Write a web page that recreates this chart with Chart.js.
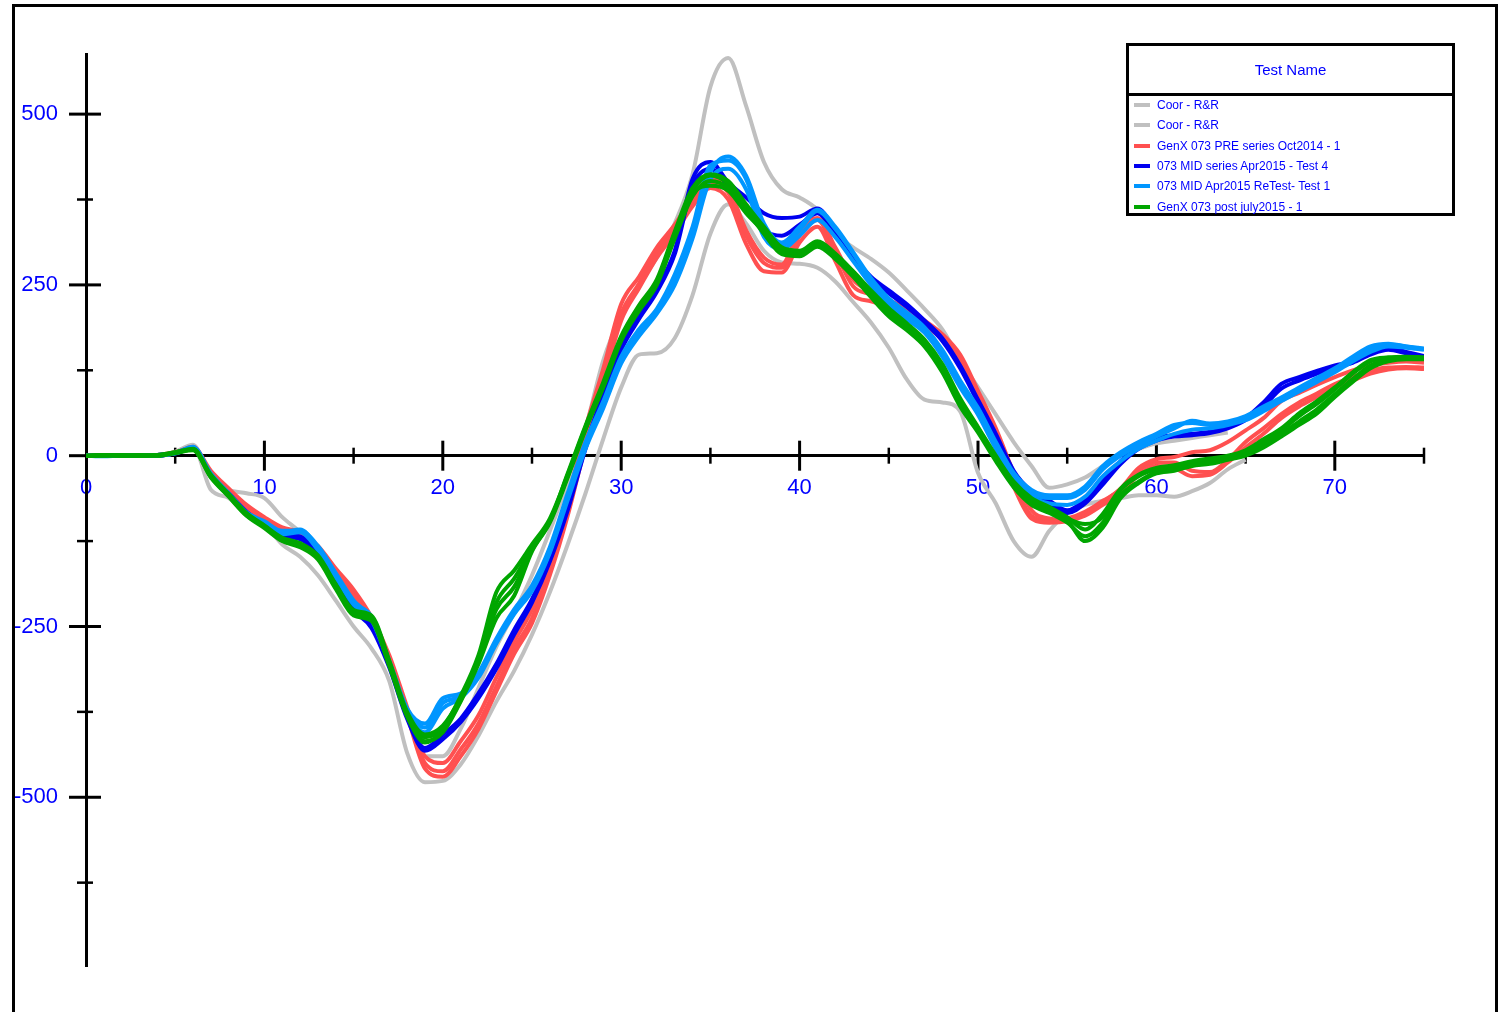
<!DOCTYPE html>
<html>
<head>
<meta charset="utf-8">
<title>Test Name</title>
<script src="https://cdn.jsdelivr.net/npm/chart.js@4.4.1/dist/chart.umd.min.js"></script>
<style>
    html, body { margin: 0; padding: 0; background: #fff; overflow: hidden; }
    body { width: 1499px; height: 1012px; position: relative; font-family: "Liberation Sans", Arial, sans-serif; }
    #frame { position: absolute; left: 12px; top: 4px; width: 1480px; height: 1100px; border: 3px solid #000; }
    #chart { position: absolute; left: 0; top: 0; }
    #legend { position: absolute; left: 1126px; top: 43px; width: 323px; height: 167px; border: 3px solid #000; background: #fff; color: #0000ff; }
    #legend .title { position: absolute; left: 0; top: 0; width: 100%; height: 47px; line-height: 47px; text-align: center; font-size: 15px; border-bottom: 3px solid #000; }
    #legend .item { position: absolute; left: 0; height: 20px; line-height: 20px; font-size: 12px; white-space: nowrap; }
    #legend .swatch { position: absolute; left: 5px; top: 8px; width: 16px; height: 4px; }
    #legend .label { position: absolute; left: 28px; top: 0; }
</style>
</head>
<body>
<div id="frame"></div>
<canvas id="chart" width="1499" height="1012"></canvas>
<div id="legend"></div>

<script>
// sample positions along the x axis
const xValues = Array.from({ length: 76 }, (_, i) => i);

const xTickValues = [0, 5, 10, 15, 20, 25, 30, 35, 40, 45, 50, 55, 60, 65, 70, 75];
const yTickValues = [-625, -500, -375, -250, -125, 0, 125, 250, 375, 500];

const seriesNames = [
    "Coor - R&R",
    "Coor - R&R",
    "GenX 073 PRE series Oct2014 - 1",
    "073 MID series Apr2015 - Test 4",
    "073 MID Apr2015 ReTest- Test 1",
    "GenX 073 post july2015 - 1"
];
const seriesColors = ["#c0c0c0", "#c0c0c0", "#ff5050", "#0000f0", "#0096ff", "#00a600"];

// Coor - R&R traces
const grayA = [
    0, 0, 1, 0, 0, 6, 16,
    -32, -50, -55, -62, -90, -112, -140, -175, -215, -245, -300, -375, -440,
    -440, -400, -340, -280, -230, -175, -110, -40, 40, 140,
    205, 250, 290, 340, 412, 540, 582, 512, 430, 390,
    378, 360, 325, 305, 288, 268, 242, 215, 185, 140,
    100, 60, 20, -15, -47, -42, -32, -15, 2, 10,
    18, 22, 26, 30, 34, null, null, null, null, null,
    null, null, null, null, null, null
];
const grayB = [
    0, 0, 0, 1, 0, 5, 14,
    -50, -62, -85, -100, -130, -148, -175, -212, -250, -282, -330, -435, -478,
    -476, -452, -410, -360, -315, -262, -200, -130, -55, 25,
    100, 148, 150, 172, 235, 325, 368, 340, 300, 283,
    281, 275, 255, 225, 195, 158, 112, 82, 78, 65,
    -25, -70, -125, -148, -110, -85, -72, -66, -62, -58,
    -58, -60, -52, -40, -20, -6, null, null, null, null,
    null, null, null, null, null, null
];

// GenX 073 PRE series Oct2014
const red1 = [
    0, 0, 0, 1, 0, 4, 13,
    -25, -50, -75, -92, -108, -118, -135, -168, -200, -240, -298, -375, -450,
    -462, -430, -392, -338, -282, -238, -166, -78, 28, 118,
    208, 252, 298, 332, 372, 400, 385, 322, 282, 275,
    322, 345, 298, 248, 236, 226, 212, 196, 176, 142,
    88, 32, -38, -88, -95, -92, -82, -66, -50, -22,
    -10, -10, -22, -24, -6, 20, 40, 61, 78, 91,
    105, 115, 125, 129, 130, 129
];
const red2 = [
    0, 1, 0, 0, 1, 5, 12,
    -22, -48, -72, -90, -105, -112, -132, -165, -196, -236, -292, -368, -440,
    -450, -418, -380, -325, -272, -225, -152, -65, 40, 128,
    222, 262, 305, 338, 378, 405, 392, 330, 290, 280,
    330, 348, 305, 258, 240, 228, 215, 198, 178, 148,
    95, 40, -25, -80, -92, -95, -85, -68, -48, -18,
    -5, -2, 5, 8, 20, 37, 55, 80, 92, 104,
    115, 125, 132, 136, 138, 136
];
const red3 = [
    0, 0, 1, 0, 0, 4, 12,
    -28, -52, -78, -95, -110, -120, -138, -172, -205, -242, -302, -380, -458,
    -470, -440, -400, -345, -290, -245, -175, -88, 15, 108,
    198, 245, 290, 325, 365, 392, 375, 310, 270, 268,
    312, 335, 285, 235, 226, 218, 205, 190, 170, 135,
    78, 22, -45, -92, -98, -96, -88, -72, -55, -28,
    -15, -18, -30, -28, -10, 12, 32, 55, 72, 86,
    100, 110, 120, 126, 128, 127
];

// 073 MID series Apr2015
const blue1 = [
    0, 0, 0, 0, 1, 4, 12,
    -28, -55, -82, -100, -115, -118, -140, -178, -222, -248, -305, -382, -428,
    -408, -385, -348, -305, -255, -210, -150, -75, 15, 90,
    160, 205, 245, 300, 405, 430, 400, 378, 355, 348,
    350, 362, 330, 292, 262, 242, 222, 198, 172, 132,
    82, 32, -22, -52, -66, -80, -64, -36, -8, 15,
    26, 30, 32, 35, 42, 55, 78, 105, 115, 124,
    132, 138, 152, 158, 152, 146
];
const blue2 = [
    0, 0, 1, 0, 0, 4, 11,
    -30, -57, -84, -102, -118, -122, -144, -182, -226, -252, -310, -385, -432,
    -415, -390, -355, -312, -262, -215, -155, -80, 10, 85,
    155, 200, 240, 295, 395, 420, 395, 360, 330, 322,
    338, 355, 325, 288, 258, 238, 218, 195, 168, 128,
    78, 28, -28, -58, -70, -84, -70, -42, -12, 10,
    22, 28, 30, 33, 40, 52, 72, 98, 110, 120,
    130, 136, 148, 155, 150, 144
];

// 073 MID Apr2015 ReTest
const lightBlue1 = [
    0, -1, 0, 0, 1, 4, 12,
    -28, -57, -85, -98, -112, -108, -135, -175, -215, -235, -300, -370, -392,
    -355, -348, -318, -268, -225, -190, -134, -55, 20, 80,
    145, 185, 215, 265, 335, 425, 432, 405, 330, 308,
    330, 358, 332, 296, 256, 226, 206, 186, 150, 105,
    65, 15, -30, -55, -62, -62, -50, -20, 0, 15,
    28, 40, 51, 47, 50, 58, 72, 85, 100, 114,
    128, 145, 160, 164, 160, 156
];
const lightBlue2 = [
    0, 0, 0, 1, 0, 4, 13,
    -26, -55, -83, -96, -110, -110, -132, -172, -212, -238, -302, -372, -398,
    -362, -352, -322, -272, -230, -195, -140, -60, 15, 75,
    140, 180, 212, 258, 325, 415, 438, 410, 340, 312,
    335, 360, 335, 298, 260, 230, 210, 188, 155, 110,
    70, 20, -25, -50, -58, -58, -45, -15, 5, 20,
    32, 45, 48, 45, 48, 55, 68, 82, 97, 110,
    125, 140, 156, 162, 160, 157
];
const lightBlue3 = [
    0, 0, 1, 0, 0, 3, 11,
    -30, -58, -86, -100, -115, -112, -138, -178, -218, -240, -305, -375, -405,
    -370, -355, -325, -275, -232, -198, -142, -65, 10, 70,
    135, 175, 208, 250, 318, 405, 420, 390, 320, 302,
    322, 345, 320, 285, 250, 220, 200, 180, 145, 100,
    60, 10, -35, -60, -70, -72, -60, -30, -8, 10,
    22, 32, 38, 40, 45, 52, 65, 80, 94, 108,
    122, 138, 152, 160, 158, 155
];

// GenX 073 post july2015
const green1 = [
    0, 1, 0, 1, 0, 5, 9,
    -30, -58, -86, -103, -122, -130, -148, -190, -228, -236, -302, -378, -412,
    -398, -352, -292, -200, -168, -130, -92, -28, 42, 105,
    172, 218, 255, 325, 388, 410, 398, 365, 330, 300,
    296, 312, 294, 268, 238, 212, 190, 166, 130, 80,
    40, -2, -40, -66, -78, -92, -100, -90, -50, -30,
    -20, -16, -10, -6, -1, 5, 20, 37, 58, 76,
    97, 120, 138, 143, 144, 143
];
const green2 = [
    0, 0, 1, 0, 1, 4, 8,
    -32, -60, -88, -106, -125, -134, -152, -195, -234, -242, -308, -382, -418,
    -405, -360, -305, -238, -205, -140, -98, -32, 38, 100,
    168, 212, 250, 318, 380, 402, 392, 360, 325, 295,
    292, 306, 288, 262, 232, 204, 184, 160, 122, 72,
    34, -8, -46, -72, -84, -98, -118, -98, -58, -38,
    -24, -20, -14, -10, -4, 2, 16, 32, 50, 68,
    90, 112, 132, 140, 142, 142
];
const green3 = [
    0, 0, 0, 0, 1, 5, 10,
    -28, -56, -84, -102, -120, -128, -146, -188, -226, -234, -300, -375, -408,
    -395, -355, -298, -215, -180, -135, -95, -30, 40, 102,
    170, 215, 252, 322, 384, 395, 388, 355, 328, 298,
    294, 308, 290, 264, 234, 206, 186, 162, 126, 76,
    37, -5, -42, -68, -80, -95, -125, -105, -62, -40,
    -26, -22, -15, -12, -6, 0, 12, 28, 45, 62,
    86, 108, 128, 138, 141, 141
];
const green4 = [
    0, 1, 0, 0, 0, 4, 9,
    -31, -59, -87, -104, -124, -132, -150, -192, -231, -240, -306, -380, -420,
    -402, -358, -300, -225, -192, -138, -96, -26, 44, 108,
    175, 220, 258, 328, 392, 412, 402, 368, 335, 305,
    300, 314, 296, 270, 242, 216, 194, 170, 134, 84,
    42, 0, -38, -62, -75, -90, -108, -85, -48, -28,
    -18, -14, -8, -4, 0, 8, 24, 40, 62, 80,
    100, 122, 140, 144, 145, 144
];

// which traces belong to which legend entry
const seriesTraces = [
    [grayA],
    [grayB],
    [red1, red2, red3],
    [blue1, blue2],
    [lightBlue1, lightBlue2, lightBlue3],
    [green1, green2, green3, green4]
];

const FONT = '"Liberation Sans", Arial, sans-serif';
const LABEL_BLUE = "#0000ff";

document.addEventListener("DOMContentLoaded", function () {
    Chart.defaults.font.family = FONT;

    // Build datasets, one per trace; later traces are painted on top
    const datasets = [];
    seriesTraces.forEach((traces, s) => {
        traces.forEach(values => {
            datasets.push({
                label: seriesNames[s],
                data: xValues.map((x, i) => ({ x: x, y: values[i] })),
                borderColor: seriesColors[s],
                borderWidth: 4,
                pointRadius: 0,
                cubicInterpolationMode: "monotone",
                spanGaps: false,
                fill: false,
                order: -datasets.length
            });
        });
    });

    // Tick marks that cross the axes
    const crossTicks = {
        id: "crossTicks",
        beforeDatasetsDraw(chart) {
            const { ctx, scales: { x, y } } = chart;
            const x0 = x.getPixelForValue(0);
            const y0 = y.getPixelForValue(0);
            ctx.save();
            ctx.strokeStyle = "#000";
            xTickValues.forEach(v => {
                if (v === 0) return;
                const px = x.getPixelForValue(v);
                const major = v % 10 === 0;
                const len = major ? 15 : 8;
                ctx.lineWidth = major ? 3 : 2.5;
                ctx.beginPath();
                ctx.moveTo(px, y0 - len);
                ctx.lineTo(px, y0 + len);
                ctx.stroke();
            });
            yTickValues.forEach(v => {
                const py = y.getPixelForValue(v);
                const major = v % 250 === 0;
                ctx.lineWidth = major ? 3 : 2.5;
                ctx.beginPath();
                ctx.moveTo(x0 - (major ? 17 : 9), py);
                ctx.lineTo(x0 + (major ? 15 : 7), py);
                ctx.stroke();
            });
            ctx.restore();
        }
    };

    new Chart(document.getElementById("chart").getContext("2d"), {
        type: "line",
        data: { datasets: datasets },
        options: {
            responsive: false,
            animation: false,
            devicePixelRatio: 1,
            layout: { padding: { left: 0, right: 75, top: 54, bottom: 46 } },
            plugins: { legend: { display: false }, tooltip: { enabled: false } },
            scales: {
                x: {
                    type: "linear",
                    min: 0,
                    max: 75,
                    position: { y: 0 },
                    grid: { display: false, drawTicks: false },
                    border: { display: true, color: "#000", width: 3 },
                    afterBuildTicks: s => { s.ticks = xTickValues.map(value => ({ value })); },
                    afterFit: s => { s.height = 0; },
                    ticks: {
                        autoSkip: false,
                        maxRotation: 0,
                        padding: 19,
                        color: LABEL_BLUE,
                        font: { size: 22, family: FONT },
                        callback: v => (v % 10 === 0 ? String(v) : "")
                    }
                },
                y: {
                    type: "linear",
                    min: -747,
                    max: 588,
                    position: "left",
                    grid: { display: false, drawTicks: false },
                    border: { display: true, color: "#000", width: 3 },
                    afterBuildTicks: s => { s.ticks = yTickValues.map(value => ({ value })); },
                    afterFit: s => { s.width = 86; },
                    ticks: {
                        autoSkip: false,
                        padding: 28,
                        color: LABEL_BLUE,
                        font: { size: 22, family: FONT },
                        callback: v => (v % 250 === 0 ? String(v) : "")
                    }
                }
            }
        },
        plugins: [crossTicks]
    });

    // Legend box
    const legend = document.getElementById("legend");
    const title = document.createElement("div");
    title.className = "title";
    title.textContent = "Test Name";
    legend.appendChild(title);

    seriesNames.forEach((name, i) => {
        const item = document.createElement("div");
        item.className = "item";
        item.style.top = (49 + 20.3 * i) + "px";
        const swatch = document.createElement("span");
        swatch.className = "swatch";
        swatch.style.background = seriesColors[i];
        const label = document.createElement("span");
        label.className = "label";
        label.textContent = name;
        item.appendChild(swatch);
        item.appendChild(label);
        legend.appendChild(item);
    });
});
</script>
</body>
</html>
